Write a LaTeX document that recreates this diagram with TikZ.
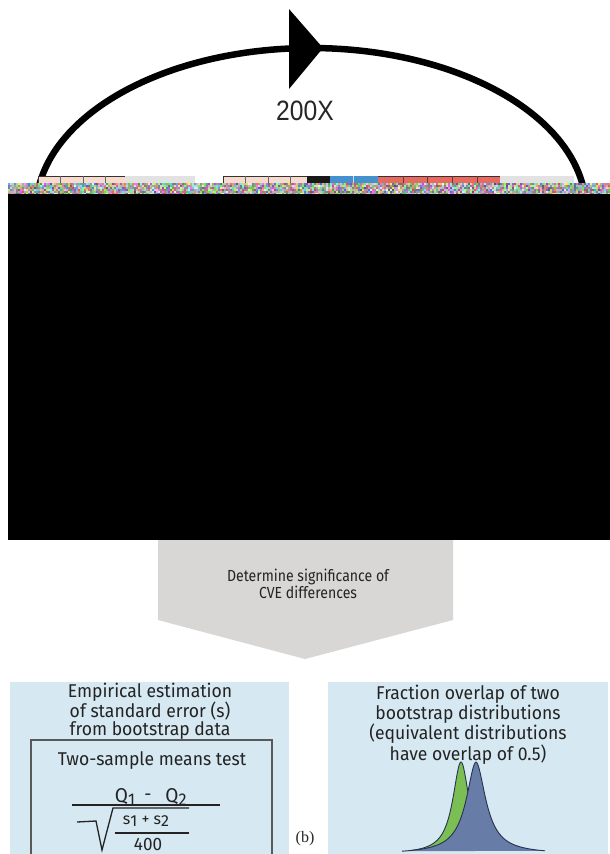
\documentclass[tikz,border=0pt]{standalone}
\usepackage{fontspec}
\setmainfont{Fira Sans}
\newfontfamily\helv{Liberation Sans}
\newfontfamily\serifb{Liberation Serif}
\definecolor{peach}{RGB}{246,218,205}
\definecolor{boxgrey}{RGB}{226,226,226}
\definecolor{boxblue}{RGB}{70,145,205}
\definecolor{boxred}{RGB}{232,105,95}
\definecolor{chev}{RGB}{217,215,213}
\definecolor{panel}{RGB}{214,232,241}
\definecolor{dgreen}{RGB}{122,190,84}
\definecolor{dblue}{RGB}{104,124,168}
\definecolor{outl}{RGB}{40,50,80}
\definecolor{txt}{RGB}{35,35,35}
\tikzset{
  ptext/.style={font=\fontsize{18.5}{17.4}\selectfont, text=txt, align=center, inner sep=0pt, xscale=0.95},
  stripbox/.style={draw=black!80, line width=0.8pt},
  formline/.style={line width=1.3pt, draw=txt},
}
\begin{document}
\begin{tikzpicture}[x=1pt,y=-1pt]
\useasboundingbox (0,0) rectangle (610,854);
\fill[white] (0,0) rectangle (610,854);
% big arc with arrow head
\draw[line width=6.5pt] plot[domain=8:172,samples=90] ({311+275*cos(\x)},{210-162*sin(\x)});
\fill (289,9) -- (323,48) -- (289,89) -- cycle;
\node[font=\helv\fontsize{28}{28}\selectfont, text=black!85, xscale=0.88] (rep) at (305,111) {200X};
% strip of boxes
\fill[peach] (38,176) rectangle (125,186);
\draw[stripbox] (38,186) -- (38,176) -- (125,176) -- (125,186);
\foreach \xx in {60,83,105}{\draw[black!60, line width=0.5pt] (\xx,176) -- (\xx,186);}
\fill[boxgrey] (125,176) rectangle (195,186);
\fill[peach] (223,176) rectangle (307,186);
\draw[stripbox] (223,186) -- (223,176) -- (307,176);
\foreach \xx in {245,268,290}{\draw[black!60, line width=0.5pt] (\xx,176) -- (\xx,186);}
\fill[black!90] (307,176) rectangle (330,186);
\fill[boxblue] (330,176) rectangle (378,186);
\draw[white!70!boxblue, line width=0.6pt] (353,176) -- (353,186);
\fill[boxred] (378,176) rectangle (500,186);
\draw[black!80, line width=0.8pt] (378,176) -- (500,176) -- (500,186);
\foreach \xx in {403,427,452,477}{\draw[black!50!boxred, line width=0.5pt] (\xx,176) -- (\xx,186);}
\fill[boxgrey] (500,176) rectangle (574,186);
% noise band
\pgfmathsetseed{11}
\foreach \i in {0,...,300}{
  \foreach \j in {0,...,5}{
    \pgfmathrandominteger{\rr}{80}{255}
    \pgfmathrandominteger{\gg}{80}{255}
    \pgfmathrandominteger{\bb}{70}{255}
    \definecolor{rc}{RGB}{\rr,\gg,\bb}
    \fill[rc] ({8+2*\i},{183+2*\j}) rectangle +(2,2);
  }
}
% black block
\fill[black] (8,194) rectangle (610,540);
% chevron
\fill[chev] (158,540) -- (453,540) -- (453,620) -- (305,659) -- (158,620) -- cycle;
\node[font=\fontsize{16}{17.5}\selectfont, text=txt, align=center, xscale=0.88] (sig) at (308,584) {Determine significance of\\CVE differences};
% panels
\fill[panel] (10,682) rectangle (289,854);
\fill[panel] (328,682) rectangle (608,854);
\node[ptext] (emp) at (150,711) {Empirical estimation\\of standard error (s)\\from bootstrap data};
\draw[line width=1.1pt, draw=black!65] (31,854) -- (31,740) -- (272,740) -- (272,854);
\node[ptext] (two) at (152,761) {Two-sample means test};
\node[ptext, font=\fontsize{20}{20}\selectfont, anchor=base] (q1) at (125,802) {Q\raisebox{-3.5pt}{\fontsize{17}{17}\selectfont 1}};
\node[ptext, anchor=base] (minus) at (148,800) {-};
\node[ptext, font=\fontsize{20}{20}\selectfont, anchor=base] (q2) at (176,802) {Q\raisebox{-3.5pt}{\fontsize{17}{17}\selectfont 2}};
\draw[formline] (72,805) -- (220,805);
\draw[formline, line join=miter] (77,822) -- (96,821) -- (102,850) -- (113,808) -- (189,808);
\node[font=\fontsize{16}{16}\selectfont, text=txt, inner sep=0pt, anchor=base] (ss) at (146,824) {s\raisebox{-2.5pt}{\fontsize{16}{16}\selectfont 1} + s\raisebox{-2.5pt}{\fontsize{16}{16}\selectfont 2}};
\draw[formline, line width=1.1pt] (115,833) -- (189,833);
\node[ptext, font=\fontsize{18}{18}\selectfont, anchor=base] (four) at (148,850) {400};
\node[font=\serifb\fontsize{16}{16}\selectfont, text=black!85, inner sep=0pt] (lab) at (305,839) {(b)};
\node[ptext] (frac) at (468,725) {Fraction overlap of two\\bootstrap distributions\\(equivalent distributions\\have overlap of 0.5)};
% distributions
\filldraw[fill=dgreen, draw=outl, line width=0.9pt] plot[domain=410:500,samples=120] (\x,{854-92/(1+((\x-461)/10)^2)});
\filldraw[fill=dblue, draw=outl, line width=0.9pt] plot[domain=402:545,samples=160] (\x,{854-92/(1+(abs(\x-476)/12)^1.9)});
\end{tikzpicture}
\end{document}
